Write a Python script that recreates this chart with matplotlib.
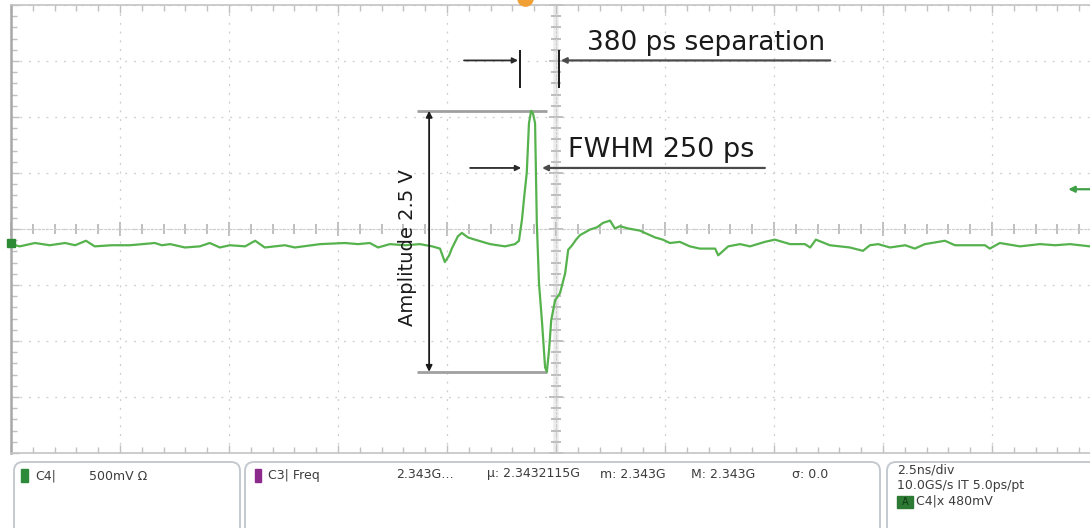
import matplotlib.pyplot as plt
from matplotlib.patches import FancyBboxPatch, Rectangle
from matplotlib.ticker import FixedLocator, MultipleLocator
import numpy as np

# Осциллограмма канала C4: время (нс) и напряжение (В)
time_ns = [-12.50, -12.30, -11.95, -11.61, -11.26, -11.03, -10.78, -10.58, -10.19, -9.77,
           -9.20, -9.04, -8.85, -8.51, -8.17, -7.94, -7.71, -7.48, -7.13, -6.90,
           -6.68, -6.22, -5.99, -5.41, -4.84, -4.54, -4.27, -4.08, -3.81, -3.46,
           -3.12, -2.84, -2.66, -2.55, -2.45, -2.39, -2.25, -2.16, -2.02, -1.86,
           -1.51, -1.17, -0.94, -0.85, -0.78, -0.73, -0.67, -0.62, -0.57, -0.53,
           -0.48, -0.44, -0.39, -0.32, -0.25, -0.21, -0.16, -0.11, -0.02, 0.09,
           0.21, 0.28, 0.37, 0.46, 0.55, 0.78, 0.94, 1.08, 1.24, 1.35,
           1.47, 1.65, 1.93, 2.04, 2.27, 2.45, 2.61, 2.84, 3.07, 3.30,
           3.65, 3.72, 3.95, 4.22, 4.45, 4.79, 5.02, 5.37, 5.71, 5.83,
           5.96, 6.28, 6.74, 7.04, 7.20, 7.39, 7.66, 8.01, 8.23, 8.46,
           8.92, 9.15, 9.84, 9.95, 10.18, 10.64, 11.10, 11.45, 11.79, 12.25, 12.50]
volts = [-0.01, -0.03, 0.00, -0.02, 0.00, -0.02, 0.02, -0.03, -0.02, -0.02,
         0.00, -0.02, -0.01, -0.04, -0.03, 0.00, -0.04, -0.02, -0.03, 0.02,
         -0.04, -0.02, -0.04, -0.01, 0.00, -0.01, 0.00, -0.04, -0.01, -0.02,
         -0.01, -0.03, -0.05, -0.17, -0.11, -0.05, 0.06, 0.09, 0.05, 0.03,
         -0.01, -0.03, -0.01, 0.02, 0.21, 0.41, 0.63, 1.07, 1.18, 1.16,
         1.07, 0.18, -0.36, -0.71, -1.11, -1.15, -0.96, -0.69, -0.51, -0.45,
         -0.27, -0.06, -0.02, 0.03, 0.07, 0.12, 0.14, 0.18, 0.20, 0.13,
         0.15, 0.13, 0.11, 0.09, 0.05, 0.03, 0.00, 0.01, -0.03, -0.05,
         -0.05, -0.11, -0.03, -0.01, -0.03, 0.01, 0.03, -0.01, -0.01, -0.04,
         0.03, -0.02, -0.04, -0.07, -0.02, -0.01, -0.04, -0.02, -0.05, -0.01,
         0.02, -0.02, -0.02, -0.05, 0.00, -0.03, -0.01, -0.02, -0.01, -0.03, -0.02]

# настройки развертки
ns_per_div = 2.5
v_per_div = 0.5
center_v = 0.125
trig_level = 0.48
trig_time = -0.7

# подписи на экране
amp_text = "Amplitude 2.5 V"
sep_text = "380 ps separation"
fwhm_text = "FWHM 250 ps"

# положение выносок (нс, В)
amp_arrow_t = -2.91
amp_lines_t = (-3.19, -0.21)
amp_text_t = -3.40
sep_bars_t = [-0.83, 0.07]
sep_bars_v = (1.38, 1.72)
sep_line_v = 1.63
sep_line_t = (-2.11, 6.29)
sep_text_t = 0.71
fwhm_marks_t = [-0.80, -0.32]
fwhm_line_v = 0.67
fwhm_line_t = (-1.97, 4.79)
fwhm_text_t = 0.28

# строка состояния внизу экрана
freq_fields = ["2.343G…", "µ: 2.3432115G", "m: 2.343G", "M: 2.343G", "σ: 0.0"]
freq_fields_x = [396, 487, 600, 691, 792]
timebase_lines = ["2.5ns/div", "10.0GS/s IT 5.0ps/pt"]

W, H = 1090, 528
fig = plt.figure(figsize=(W / 100, H / 100), dpi=100)
fig.patch.set_facecolor('white')

pos = [11 / W, 75 / H, 1090 / W, 448 / H]
ax = fig.add_axes(pos)
ax.set_zorder(2)
ax.patch.set_visible(False)
ax.set_xlim(-5 * ns_per_div, 5 * ns_per_div)
ax.set_ylim(center_v - 4 * v_per_div, center_v + 4 * v_per_div)

ax.xaxis.set_major_locator(MultipleLocator(ns_per_div))
ax.xaxis.set_minor_locator(MultipleLocator(ns_per_div / 5))
ax.yaxis.set_major_locator(FixedLocator(center_v + np.arange(-4, 5) * v_per_div))
ax.yaxis.set_minor_locator(FixedLocator(center_v + np.arange(-20, 21) * v_per_div / 5))

ax.grid(True, which='major', color='#cccccc', lw=0.9, ls=(0, (1.5, 5.5)))
ax.tick_params(which='both', direction='in', top=True, bottom=True, left=True, right=False,
               labelbottom=False, labelleft=False, color='#c0c0c0', width=1.0)
ax.tick_params(which='major', length=6)
ax.tick_params(which='minor', length=4)
for side in ['top', 'bottom']:
    ax.spines[side].set_color('#c4c4c4')
    ax.spines[side].set_linewidth(1.2)
ax.spines['left'].set_color('#a8a8a8')
ax.spines['left'].set_linewidth(1.8)
ax.spines['right'].set_visible(False)

# центральные оси с рисками
axc = fig.add_axes(pos, sharex=ax, sharey=ax)
axc.set_zorder(1)
axc.patch.set_visible(False)
axc.spines['top'].set_visible(False)
axc.spines['right'].set_visible(False)
axc.spines['left'].set_position(('data', 0))
axc.spines['bottom'].set_position(('data', center_v))
for side in ['left', 'bottom']:
    axc.spines[side].set_color('#cccccc')
    axc.spines[side].set_linestyle((0, (1.5, 2)))
axc.tick_params(which='both', direction='inout', labelbottom=False, labelleft=False,
                color='#b4b4b4', width=1.2)
axc.tick_params(which='major', length=10)
axc.tick_params(which='minor', length=7)
axc.axvline(0, color='#ececec', lw=4, zorder=0)

# сигнал
ax.plot(time_ns, volts, color='#55b24d', lw=1.6, zorder=3)

# размах
v_hi, v_lo = max(volts), min(volts)
ax.hlines([v_hi, v_lo], amp_lines_t[0], amp_lines_t[1], color='#a0a0a0', lw=2, zorder=2)
ax.annotate('', xy=(amp_arrow_t, v_hi), xytext=(amp_arrow_t, v_lo),
            arrowprops=dict(arrowstyle='<|-|>', color='#1a1a1a', lw=1.3,
                            mutation_scale=9, shrinkA=0, shrinkB=0))
ax.text(amp_text_t, (v_hi + v_lo) / 2 - 0.06, amp_text, rotation=90, ha='center', va='center',
        fontsize=14, color='#1a1a1a', family='DejaVu Sans')

arrow = dict(arrowstyle='-|>', color='#2a2a2a', lw=1.3, mutation_scale=8, shrinkA=0, shrinkB=0)

# расстояние между пиками
ax.vlines(sep_bars_t, sep_bars_v[0], sep_bars_v[1], color='#1a1a1a', lw=1.4, zorder=4)
ax.annotate('', xy=(sep_bars_t[0] - 0.04, sep_line_v), xytext=(sep_line_t[0], sep_line_v),
            arrowprops=arrow)
ax.annotate('', xy=(sep_bars_t[1] + 0.04, sep_line_v), xytext=(sep_line_t[1], sep_line_v),
            arrowprops=dict(arrow, color='#4a4a4a', lw=1.6))
ax.text(sep_text_t, sep_line_v + 0.04, sep_text, fontsize=19, va='bottom', ha='left',
        color='#1a1a1a', family='DejaVu Sans')

# ширина импульса на полувысоте
ax.annotate('', xy=(fwhm_marks_t[0], fwhm_line_v), xytext=(fwhm_line_t[0], fwhm_line_v),
            arrowprops=arrow)
ax.annotate('', xy=(fwhm_marks_t[1], fwhm_line_v), xytext=(fwhm_line_t[1], fwhm_line_v),
            arrowprops=dict(arrow, color='#4a4a4a', lw=1.6))
ax.text(fwhm_text_t, fwhm_line_v + 0.04, fwhm_text, fontsize=19.5, va='bottom', ha='left',
        color='#1a1a1a', family='DejaVu Sans')

# маркеры уровня земли, запуска и момента запуска
ax.plot([ax.get_xlim()[0]], [0], marker='s', ms=6, color='#2e8b35', clip_on=False, zorder=5)
ax.annotate('', xy=(11.75, trig_level), xytext=(12.6, trig_level),
            arrowprops=dict(arrowstyle='-|>', color='#3f9f45', lw=1.6, mutation_scale=9,
                            shrinkA=0, shrinkB=0), annotation_clip=False)
ax.plot([trig_time], [ax.get_ylim()[1] + 0.06], marker='o', ms=12, color='#f0a035',
        mec='none', clip_on=False, zorder=5)

# нижняя панель
sb = fig.add_axes([0, 0, 1, 1])
sb.set_zorder(0)
sb.set_xlim(0, W)
sb.set_ylim(H, 0)
sb.axis('off')

for x0, x1 in [(14, 240), (245, 880), (887, 1110)]:
    sb.add_patch(FancyBboxPatch((x0, 462), x1 - x0, 90,
                                boxstyle='round,pad=0,rounding_size=9',
                                fc='white', ec='#c4cad0', lw=1.4))

status = dict(fontsize=9, color='#3c3c3c', va='center', ha='left', family='DejaVu Sans')
sb.add_patch(Rectangle((21, 469), 7, 13, color='#2d8a3a'))
sb.text(35, 476, "C4|", **status)
sb.text(89, 476, "500mV Ω", **status)
sb.add_patch(Rectangle((255, 469), 6, 13, color='#8b2a8b'))
sb.text(268, 476, "C3| Freq", **status)
for x, s in zip(freq_fields_x, freq_fields):
    sb.text(x, 474, s, **status)

sb.text(897, 470, timebase_lines[0], **status)
sb.text(897, 485, timebase_lines[1], **status)
sb.add_patch(Rectangle((897, 496), 16, 12, color='#2d7a35'))
sb.text(905, 502, "A", fontsize=7, color='#0f3a12', ha='center', va='center', family='DejaVu Sans')
sb.text(916, 501, f"C4|x {trig_level * 1000:.0f}mV", **status)

fig.savefig('out.png', dpi=100)
